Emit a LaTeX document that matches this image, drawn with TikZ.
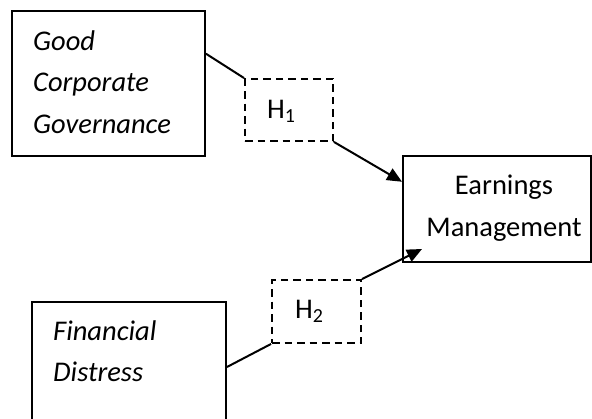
\documentclass[tikz,border=0pt]{standalone}
\usepackage{fontspec}
\setmainfont{Carlito}
\usetikzlibrary{arrows.meta}
\tikzset{
  box/.style={draw, line width=1.9pt, rectangle, inner sep=0pt, minimum width=#1},
  hyp/.style={draw, line width=1.9pt, dash pattern=on 7.5pt off 5pt, rectangle, inner sep=0pt},
  txt/.style={inner sep=0pt, font=\fontsize{28.5}{34}\selectfont},
  conn/.style={line width=2pt},
  arr/.style={line width=2pt, -{Triangle[length=15pt,width=13pt]}}
}
\begin{document}
\begin{tikzpicture}[x=1pt,y=-1pt]
\useasboundingbox (0,0) rectangle (592,418);
\clip (0,0) rectangle (592,418);
% boxes
\node[box=193pt, minimum height=145pt] (gcg) at (108.5,83.5) {};
\node[box=194pt, minimum height=130pt] (fd) at (129,367) {};
\node[box=188pt, minimum height=106pt] (em) at (497,209) {};
\node[hyp, minimum width=88pt, minimum height=62pt] (h1) at (289,110) {};
\node[hyp, minimum width=89pt, minimum height=63pt] (h2) at (316.5,311.5) {};
% texts
\node[txt, anchor=base west] (t1) at (33,50) {\itshape Good};
\node[txt, anchor=base west] (t2) at (33,91) {\itshape Corporate};
\node[txt, anchor=base west] (t3) at (33,133) {\itshape Governance};
\node[txt, anchor=base west] (t4) at (53,340) {\itshape Financial};
\node[txt, anchor=base west] (t5) at (53,381) {\itshape Distress};
\node[txt, anchor=base] (t6) at (504,194) {Earnings};
\node[txt, anchor=base] (t7) at (504,236) {Management};
\node[txt, anchor=base west] (t8) at (267,118) {H\textsubscript{1}};
\node[txt, anchor=base west] (t9) at (295,318) {H\textsubscript{2}};
% connectors
\coordinate (tip2) at (422,249);
\draw[conn] (gcg.17.5) -- (h1.north west);
\draw[arr] (h1.south east) -- (em.164.5);
\draw[conn] (fd.east) -- (h2.south west);
\draw[arr] (h2.north east) -- (tip2);
\end{tikzpicture}
\end{document}
